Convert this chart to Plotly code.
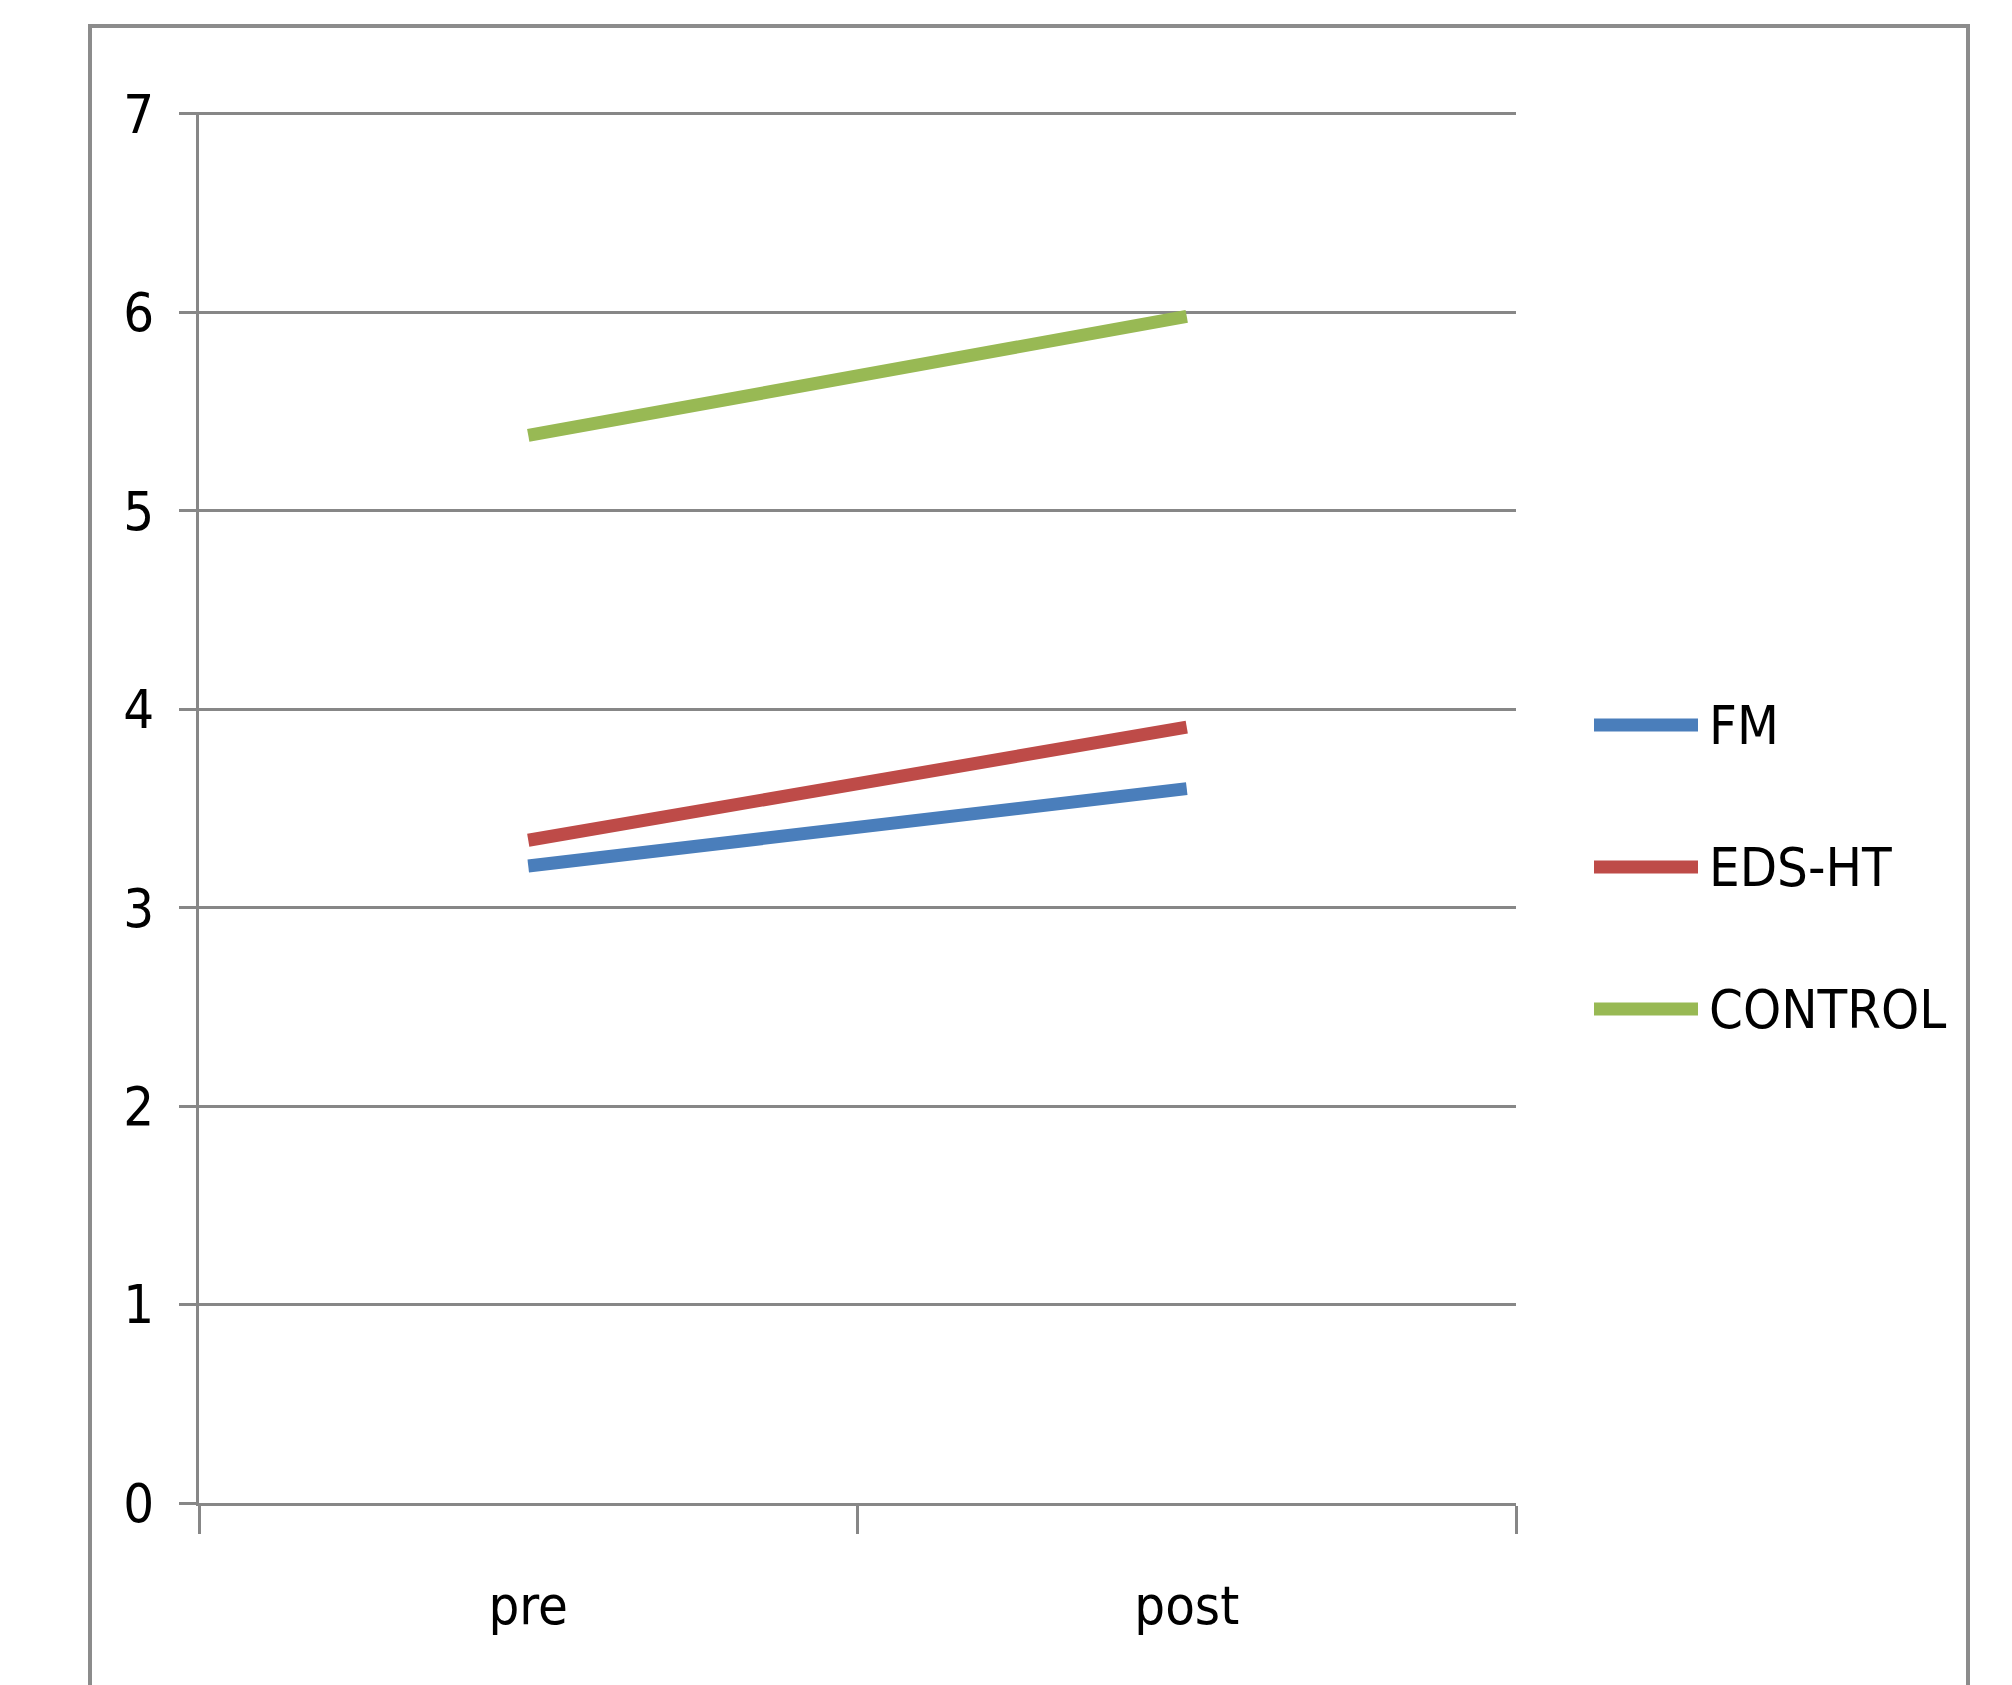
import plotly.graph_objects as go

categories = ["pre", "post"]
series_names = ["FM", "EDS-HT", "CONTROL"]
fm_values = [3.21, 3.60]
eds_values = [3.34, 3.91]
control_values = [5.38, 5.98]
series_values = [fm_values, eds_values, control_values]
series_colors = ["#4A7EBB", "#BE4B48", "#98B954"]
y_ticks = [0, 1, 2, 3, 4, 5, 6, 7]

W, H = 2012, 1685
OFF = 8  # default page body margin
L, R, T, B = 191, 504, 104, 190
PW, PH = W - L - R, H - T - B

def px(x):
    return (x - OFF - L) / PW

def py(y):
    return (H - B - (y - OFF)) / PH

FONT = "Liberation Sans Narrow, Arial Narrow, DejaVu Sans Condensed, sans-serif"
GRAY = "#878787"
FS = 54

fig = go.Figure()
for name, vals, col in zip(series_names, series_values, series_colors):
    fig.add_trace(go.Scatter(x=categories, y=vals, mode="lines", name=name,
                             line=dict(color=col, width=13), showlegend=False))

shapes = []
annotations = []
# outer chart border
shapes.append(dict(type="rect", xref="paper", yref="paper",
                   x0=px(90), x1=px(1968), y0=py(1760), y1=py(26),
                   line=dict(color="#8C8C8C", width=4), fillcolor="rgba(0,0,0,0)", layer="below"))
# manual legend
leg_y = [725, 867, 1009]
for name, col, yy in zip(series_names, series_colors, leg_y):
    shapes.append(dict(type="line", xref="paper", yref="paper",
                       x0=px(1594), x1=px(1698), y0=py(yy), y1=py(yy),
                       line=dict(color=col, width=13)))
    annotations.append(dict(xref="paper", yref="paper", x=px(1707), y=py(yy),
                            text=name, showarrow=False, xanchor="left", yanchor="middle",
                            font=dict(family=FONT, size=FS, color="#000000")))

fig.update_layout(
    width=W, height=H,
    margin=dict(l=L, r=R, t=T, b=B),
    paper_bgcolor="white", plot_bgcolor="white",
    shapes=shapes, annotations=annotations,
    showlegend=False,
    font=dict(family=FONT, size=FS, color="#000000"),
)
fig.update_xaxes(type="category", range=[-0.5, 1.5], tickson="boundaries",
                 ticks="outside", ticklen=28, tickwidth=3, tickcolor=GRAY,
                 showline=True, linecolor=GRAY, linewidth=3, showgrid=False,
                 ticklabelstandoff=53, tickfont=dict(family=FONT, size=FS, color="#000000"))
fig.update_yaxes(range=[0, 7.01], tickvals=y_ticks, ticktext=[str(v) for v in y_ticks],
                 ticks="outside", ticklen=17, tickwidth=3, tickcolor=GRAY,
                 showline=True, linecolor=GRAY, linewidth=3,
                 showgrid=True, gridcolor=GRAY, gridwidth=3, zeroline=False,
                 ticklabelstandoff=14, tickfont=dict(family=FONT, size=FS, color="#000000"))

fig.write_html("out.html")
